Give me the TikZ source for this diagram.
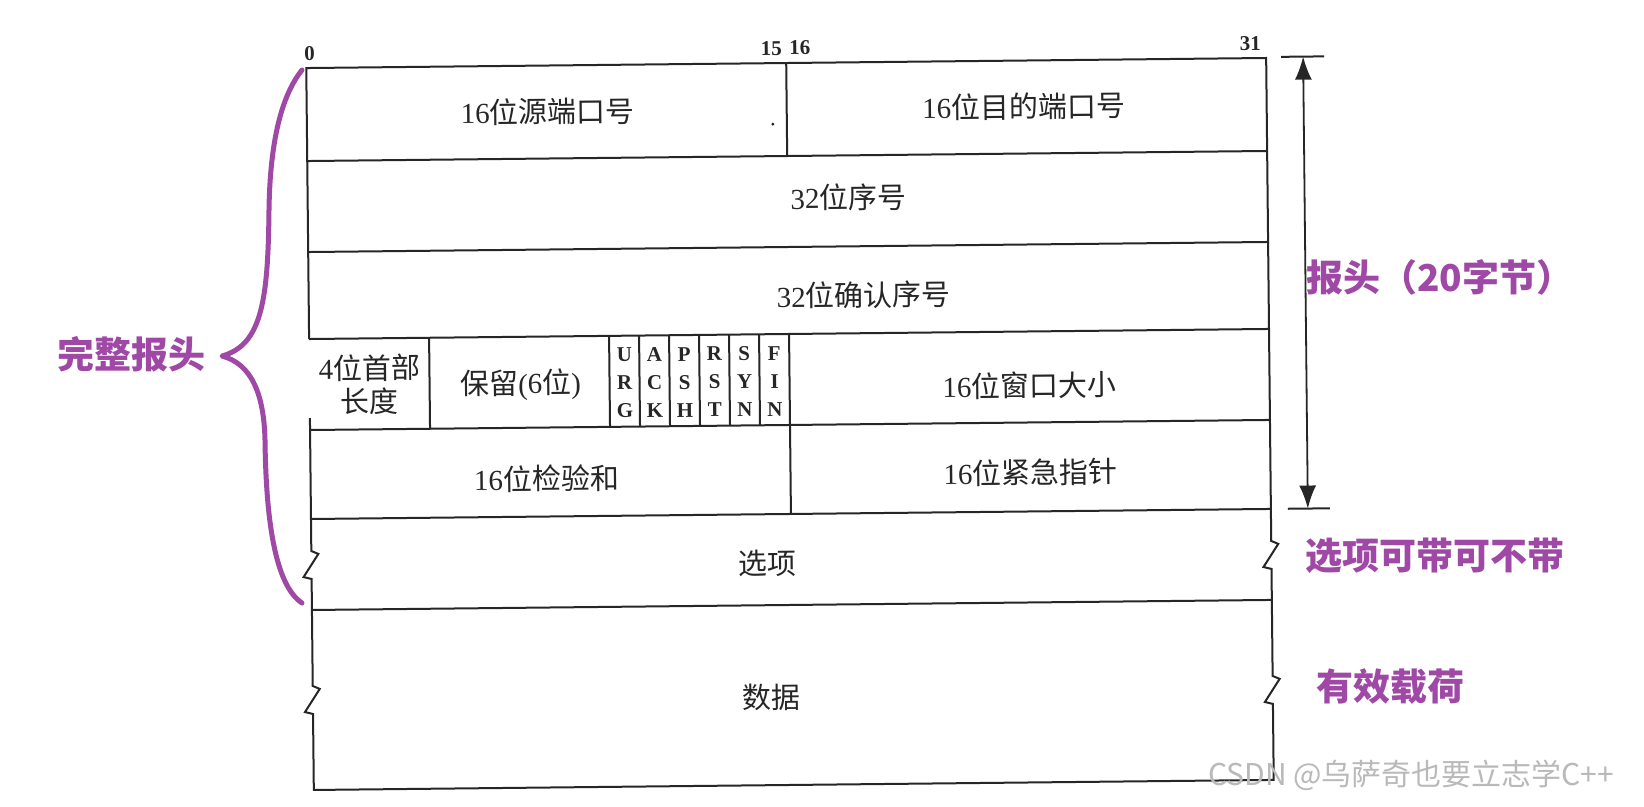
\documentclass[tikz,border=0pt]{standalone}
\usepackage{fontspec}
\setmainfont{Liberation Serif}
\newfontfamily\cjk{Noto Sans CJK SC}
\usetikzlibrary{arrows.meta}
\definecolor{anno}{HTML}{9F48A6}
\definecolor{scan}{HTML}{262626}
\newcommand\zh[1]{{\cjk #1}}
\tikzset{
  frame/.style={draw=scan, line width=2pt},
  cell/.style={font={\fontsize{29}{33}\selectfont}, inner sep=0pt, text=scan, align=center},
  flag/.style={font={\fontsize{21}{28}\selectfont\bfseries}, inner sep=0pt, text=scan, align=center},
  bitnum/.style={font={\fontsize{21}{24}\selectfont\bfseries}, inner sep=0pt, text=scan},
  annot/.style={font={\fontsize{37}{40}\selectfont\cjk\bfseries}, text=anno, inner sep=0pt},
  bracepath/.style={draw=anno, line width=5pt, line cap=round, line join=round},
  tbar/.style={draw=scan, line width=2pt},
}
\begin{document}
\begin{tikzpicture}[x=1pt,y=-1pt]
\useasboundingbox (0,0) rectangle (1644,806);
\fill[white] (0,0) rectangle (1644,806);
\begin{scope}[rotate around={0.6:(788,425)}, transform shape]
  % outer frame with zigzag breaks (left border open beside the header-length cell)
  \draw[frame] (310,334) -- (310,63)
     -- (1270,63) -- (1270,546) -- (1277,549) -- (1262,572) -- (1270,574)
     -- (1270,681) -- (1277,684) -- (1262,707) -- (1270,709) -- (1270,785)
     -- (310,785) -- (310,709) -- (302,707) -- (317,684) -- (310,681)
     -- (310,574) -- (302,572) -- (317,549) -- (310,546) -- (310,413);
  % row lines
  \foreach \y in {156,247,334,425,514,605}
    \draw[frame] (310,\y) -- (1270,\y);
  % column dividers
  \draw[frame] (790,63) -- (790,156);
  \foreach \x in {430,610,640,670,700,730,760,790}
    \draw[frame] (\x,334) -- (\x,425);
  \draw[frame] (790,425) -- (790,514);
  % bit numbers
  \node[bitnum, anchor=base west] (b0) at (308,55) {0};
  \node[bitnum, anchor=base east] (b15) at (786,55) {15};
  \node[bitnum, anchor=base west] (b16) at (793,55) {16};
  \node[bitnum, anchor=base east] (b31) at (1265,55) {31};
  % cell texts
  \node[cell] (sport) at (551,109) {16\zh{位源端口号}};
  \node[cell] (dport) at (1027,109) {16\zh{位目的端口号}};
  \node[cell] (seq) at (851,198) {32\zh{位序号}};
  \node[cell] (ack) at (865,296) {32\zh{位确认序号}};
  \node[cell] (hlen) at (370,380) {4\zh{位首部}\\\zh{长度}};
  \node[cell] (resv) at (521,382) {\zh{保留}(6\zh{位})};
  \node[flag] (urg) at (625,381) {U\\R\\G};
  \node[flag] (ackf) at (655,381) {A\\C\\K};
  \node[flag] (psh) at (685,381) {P\\S\\H};
  \node[flag] (rst) at (715,381) {R\\S\\T};
  \node[flag] (syn) at (745,381) {S\\Y\\N};
  \node[flag] (fin) at (775,381) {F\\I\\N};
  \node[cell] (win) at (1030,388) {16\zh{位窗口大小}};
  \node[cell] (csum) at (546,476) {16\zh{位检验和}};
  \node[cell] (urgp) at (1030,475) {16\zh{位紧急指针}};
  \node[cell] (opt) at (766,563) {\zh{选项}};
  \node[cell] (data) at (769,697) {\zh{数据}};
  \fill[scan] (776,124) circle (1.6);
  % header-length arrow
  \coordinate (atop) at (1307,62);
  \coordinate (abot) at (1307,514);
  \coordinate (atopl) at (1285,62);
  \coordinate (atopr) at (1328,62);
  \coordinate (abotl) at (1287,514);
  \coordinate (abotr) at (1329,514);
  \draw[scan, line width=1.8pt, {Latex[length=23pt,width=17pt]}-{Latex[length=23pt,width=17pt]}] (atop) -- (abot);
  \draw[tbar] (atopl) -- (atopr);
  \draw[tbar] (abotl) -- (abotr);
\end{scope}
% purple annotations
\draw[bracepath] (302,70) .. controls (282,95) and (270,140) .. (269,210)
   .. controls (268,300) and (262,345) .. (222,356)
   .. controls (252,364) and (264,395) .. (265,440)
   .. controls (266,520) and (275,585) .. (302,603);
\node[annot] (full) at (131,354) {完整报头};
\node[annot, anchor=west] (hdr) at (1306,277) {报头（20字节）};
\node[annot, anchor=west] (optl) at (1305,556) {选项可带可不带};
\node[annot, anchor=west] (pay) at (1316,687) {有效载荷};
% watermark
\node[font={\fontsize{30}{32}\selectfont\cjk}, text=gray!55, inner sep=0pt, anchor=west] (wm) at (1208,775) {CSDN @乌萨奇也要立志学C++};
\end{tikzpicture}
\end{document}
